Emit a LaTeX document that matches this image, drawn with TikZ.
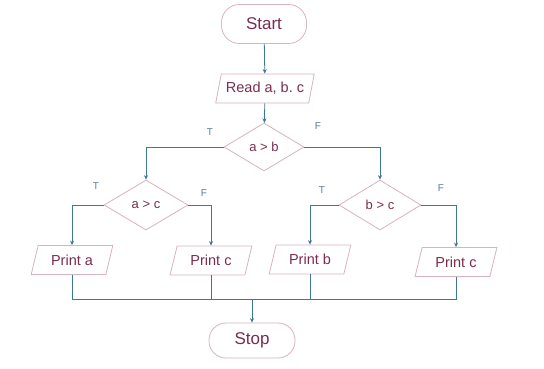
\documentclass[tikz,border=0pt]{standalone}
\usepackage{fontspec}
\setmainfont{Liberation Sans}
\usetikzlibrary{shapes.geometric,arrows.meta}
\definecolor{edgepink}{HTML}{D9B3C0}
\definecolor{txt}{HTML}{7A2D4F}
\definecolor{wire}{HTML}{3D7898}
\definecolor{lbl}{HTML}{5B7F98}
\frenchspacing
\tikzset{
  term/.style={draw=edgepink, line width=0.8pt, rectangle, rounded corners=18pt, minimum width=85pt, minimum height=39pt, text=txt, font=\fontsize{17}{17}\selectfont, inner sep=0pt},
  io/.style={draw=edgepink, line width=0.8pt, trapezium, trapezium left angle=68, trapezium right angle=112, trapezium stretches=true, minimum width=82pt, minimum height=29pt, text=txt, font=\fontsize{14.5}{14.5}\selectfont, inner sep=0pt},
  dec/.style={draw=edgepink, line width=0.8pt, diamond, minimum width=82pt, minimum height=49pt, text=txt, font=\fontsize{13}{13}\selectfont, inner sep=0pt},
  wireln/.style={draw=wire, line width=0.8pt},
  arr/.style={wireln, -{Stealth[length=4.5pt,width=4pt]}},
  tf/.style={text=lbl, font=\fontsize{10}{10}\selectfont, inner sep=0pt}
}
\begin{document}
\begin{tikzpicture}[x=1pt,y=-1pt]
\fill[white] (0,0) rectangle (544,368);
\useasboundingbox (0,0) rectangle (544,368);
\node[term] (start) at (264,24) {Start};
\node[io, minimum width=99pt] (read) at (265,88.5) {Read a, b.\ c};
\node[dec, minimum width=80pt, minimum height=48pt] (ab) at (264,147) {a > b};
\node[dec, minimum width=84pt, minimum height=50pt] (ac) at (146,205) {a > c};
\node[dec, minimum width=82pt, minimum height=50pt] (bc) at (380,205) {b > c};
\node[io] (pa) at (72,260) {Print a};
\node[io] (pc1) at (211,260.5) {Print c};
\node[io] (pb) at (310,259.5) {Print b};
\node[io] (pc2) at (456,262) {Print c};
\node[term, minimum width=86pt, minimum height=35pt, rounded corners=17pt] (stop) at (252,340.5) {Stop};
\coordinate (m) at (252,299);
\node[tf] (t1) at (210,132) {T};
\node[tf] (f1) at (318,126) {F};
\node[tf] (t2) at (96,186) {T};
\node[tf] (f2) at (204,193) {F};
\node[tf] (t3) at (322,190) {T};
\node[tf] (f3) at (441,188) {F};
\draw[arr] (start) -- (read);
\draw[arr] (read) -- (ab);
\draw[arr] (ab.west) -| (ac.north);
\draw[arr] (ab.east) -| (bc.north);
\draw[arr] (ac.west) -| (pa.north);
\draw[arr] (ac.east) -| (pc1.north);
\draw[arr] (bc.west) -| (pb.north);
\draw[arr] (bc.east) -| (pc2.north);
\draw[wireln] (pa.south) |- (m);
\draw[wireln] (pc1.south) |- (m);
\draw[wireln] (pb.south) |- (m);
\draw[wireln] (pc2.south) |- (m);
\draw[arr] (m) -- (stop);
\end{tikzpicture}
\end{document}
